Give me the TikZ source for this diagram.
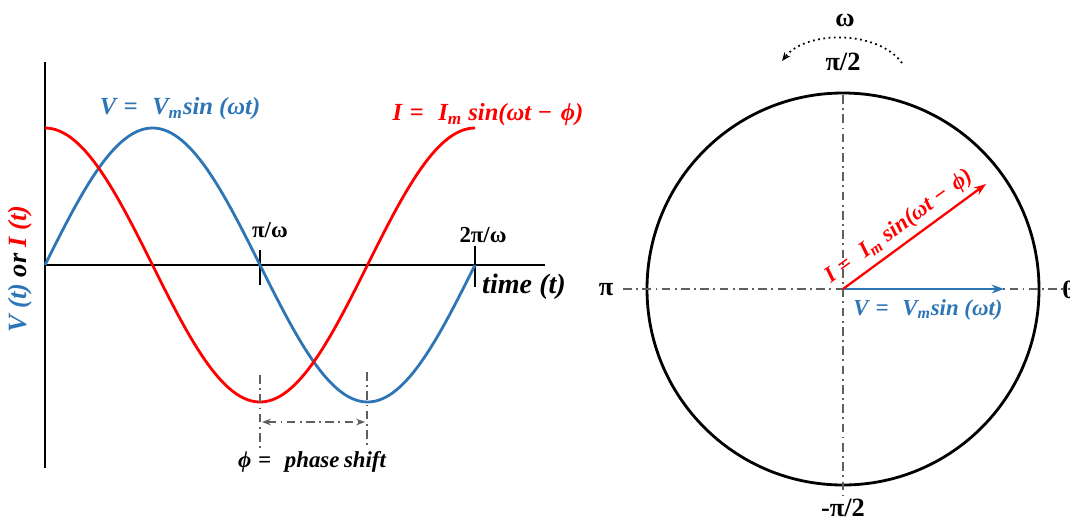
\documentclass[tikz,border=0pt]{standalone}
\usepackage{fontspec}
\setmainfont{Liberation Serif}
\usetikzlibrary{arrows.meta}

\definecolor{vblue}{RGB}{46,117,182}
\definecolor{ired}{RGB}{255,0,0}
\definecolor{guidegray}{RGB}{95,95,95}
\newcommand{\eqsign}{\hspace{0.3em}=\hspace{0.6em}}
\newcommand{\minsign}{\hspace{0.25em}−\hspace{0.35em}}

\begin{document}
\begin{tikzpicture}[x=0.02cm, y=-0.02cm, line width=1.6pt,
  eqlabel/.style={font=\fontsize{13}{15}\selectfont\bfseries\itshape, inner sep=1pt},
  bigeq/.style={eqlabel, font=\fontsize{14}{16}\selectfont\bfseries\itshape},
  ticklabel/.style={font=\fontsize{13}{15}\selectfont\bfseries, inner sep=1pt},
  anglelabel/.style={ticklabel, font=\fontsize{15}{17}\selectfont\bfseries},
  guide/.style={guidegray, line width=0.9pt, dash pattern=on 5pt off 2.5pt on 1pt off 2.5pt},
  phasor/.style={line width=1.3pt, -{Stealth[length=7pt, width=5pt]}}]

  \useasboundingbox (0,0) rectangle (1070,521);

  % -- Time axes --
  \draw (45,62) -- (45,468);
  \draw (45,265) -- (545,265);
  \draw (260,250) -- (260,285);
  \draw (475,246) -- (475,287);
  \node[ticklabel] (halfT) at (270,230) {π/ω};
  \node[ticklabel] (fullT) at (483,235) {2π/ω};
  \node[bigeq, font=\fontsize{16}{18}\selectfont\bfseries\itshape] (tlabel) at (524,287) {time (t)};
  \node[bigeq, font=\fontsize{15}{17}\selectfont\bfseries\itshape, rotate=90] (ylabel) at (20,269)
    {\textcolor{vblue}{V (t)} or \textcolor{ired}{I (t)}};

  % -- Waveforms --
  \draw[vblue] plot[domain=45:475, samples=120] (\x, {265-137*sin(0.837209*(\x-45))});
  \draw[ired] plot[domain=45:475, samples=120] (\x, {265-137*cos(0.837209*(\x-45))});
  \node[bigeq, vblue] (vwave) at (180,109) {V\eqsign V\textsubscript{m}sin (ωt)};
  \node[bigeq, ired] (iwave) at (488,115) {I\eqsign I\textsubscript{m} sin(ωt\minsign ϕ)};

  % -- Phase shift --
  \coordinate (itrough) at (260,375);
  \coordinate (vtrough) at (367,372);
  \draw[guide] (itrough) -- (260,450);
  \draw[guide] (vtrough) -- (367,445);
  \draw[guide, {Stealth[length=5pt]}-{Stealth[length=5pt]}] (262,422) -- (365,422);
  \node[eqlabel] (shift) at (312,462) {ϕ\eqsign phase\hspace{0.2em}shift};

  % -- Phasor circle --
  \coordinate (O) at (843,289);
  \draw (O) circle [radius=196];
  \draw[guide] (623,289) -- (1070,289);
  \draw[guide] (843,95) -- (843,498);
  \node[anglelabel] (pi) at (606,290) {π};
  \node[anglelabel] (zero) at (1069,290) {0};
  \node[anglelabel] (top) at (843,62) {π/2};
  \node[anglelabel] (bottom) at (843,508) {-π/2};
  \node[anglelabel] (omega) at (845,20) {ω};
  \draw[line width=1pt, dotted, -{Stealth[length=5pt, width=4pt]}] (902,63) .. controls (878,30) and (806,30) .. (782,61);

  % -- Phasors --
  \coordinate (vtip) at (1004,289);
  \coordinate (itip) at (986,184);
  \draw[phasor, vblue] (O) -- (vtip);
  \draw[phasor, ired] (O) -- (itip)
    node[eqlabel, midway, sloped, above=2pt, xshift=-4pt] (iphasor) {I\eqsign I\textsubscript{m} sin(ωt\minsign ϕ)};
  \node[eqlabel, vblue] (vphasor) at (928,310) {V\eqsign V\textsubscript{m}sin (ωt)};

\end{tikzpicture}
\end{document}
